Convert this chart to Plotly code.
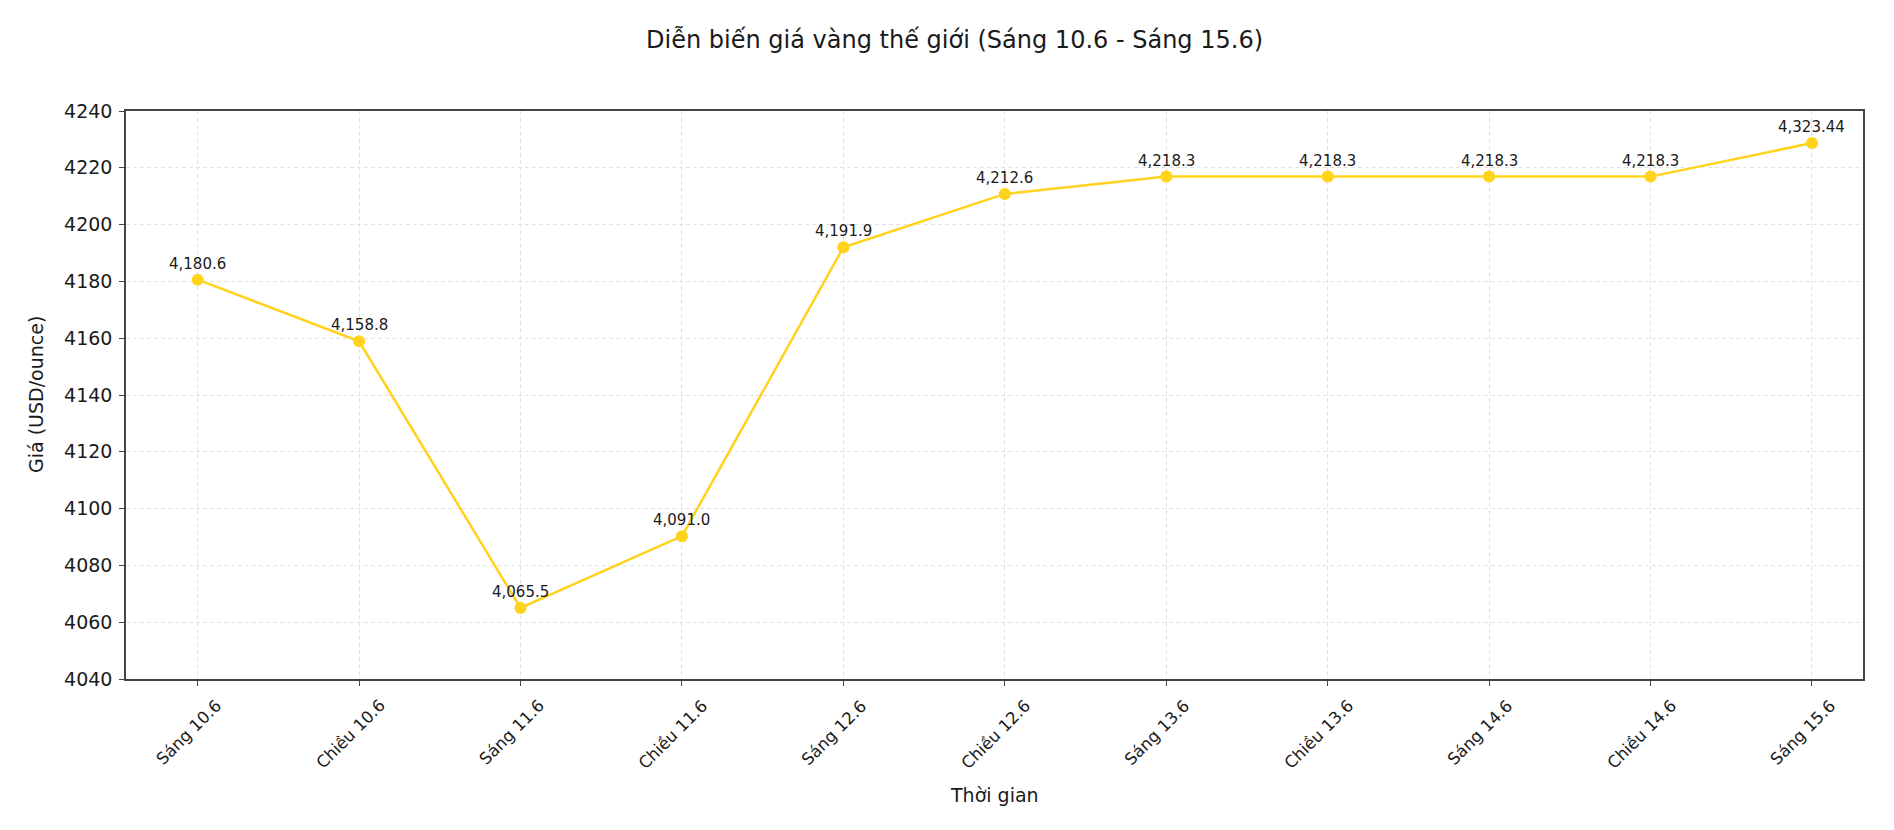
import plotly.graph_objects as go

categories = ["Sáng 10.6", "Chiều 10.6", "Sáng 11.6", "Chiều 11.6", "Sáng 12.6",
              "Chiều 12.6", "Sáng 13.6", "Chiều 13.6", "Sáng 14.6", "Chiều 14.6", "Sáng 15.6"]
prices = [4180.6, 4158.9, 4065.0, 4090.3, 4192.0, 4210.8, 4216.9, 4216.9, 4216.9, 4216.9, 4228.7]
price_labels = ["4,180.6", "4,158.8", "4,065.5", "4,091.0", "4,191.9", "4,212.6",
                "4,218.3", "4,218.3", "4,218.3", "4,218.3", "4,323.44"]
y_ticks = [4040, 4060, 4080, 4100, 4120, 4140, 4160, 4180, 4200, 4220, 4240]

FONT = "DejaVu Sans"
TXT = "#1a1a1a"
x_idx = list(range(len(categories)))

fig = go.Figure()
fig.add_trace(go.Scatter(
    x=x_idx, y=prices, mode="lines+markers",
    line=dict(color="#FFD21C", width=2.5),
    marker=dict(color="#FFD21C", size=12),
    showlegend=False,
))

# value labels above points
for xi, yv, lab in zip(x_idx, prices, price_labels):
    fig.add_annotation(x=xi, y=yv, text=lab, showarrow=False,
                       xanchor="center", yanchor="middle", yshift=16,
                       font=dict(family=FONT, size=15, color=TXT))

# rotated category labels
for xi, cat in zip(x_idx, categories):
    fig.add_annotation(x=xi, y=0, xref="x", yref="paper", text=cat, showarrow=False,
                       textangle=-45, xanchor="center", yanchor="top",
                       xshift=-9, yshift=-14,
                       font=dict(family=FONT, size=16.5, color=TXT))

# axis titles
fig.add_annotation(x=0.5, y=-0.204, xref="paper", yref="paper", text="Thời gian",
                   showarrow=False, xanchor="center", yanchor="middle",
                   font=dict(family=FONT, size=19, color=TXT))
fig.add_annotation(x=-0.0518, y=0.5, xref="paper", yref="paper", text="Giá (USD/ounce)",
                   showarrow=False, xanchor="center", yanchor="middle", textangle=-90,
                   font=dict(family=FONT, size=19, color=TXT))

fig.update_layout(
    width=1894, height=830,
    margin=dict(l=126, r=31, t=111, b=151),
    paper_bgcolor="white", plot_bgcolor="white",
    title=dict(text="Diễn biến giá vàng thế giới (Sáng 10.6 - Sáng 15.6)",
               x=0.504, xanchor="center", y=0.952, yanchor="middle",
               font=dict(family=FONT, size=24, color=TXT)),
    font=dict(family=FONT, color=TXT),
)
fig.update_xaxes(
    range=[-0.444, 10.316],
    tickmode="array", tickvals=x_idx, showticklabels=False,
    ticks="outside", ticklen=5, tickcolor="#444",
    showline=True, linecolor="#444", linewidth=1.5, mirror=True,
    showgrid=True, gridcolor="#e2e2e2", griddash="4px,3px", gridwidth=1,
    zeroline=False,
)
fig.update_yaxes(
    range=[4040, 4240],
    tickmode="array", tickvals=y_ticks,
    tickfont=dict(family=FONT, size=19, color=TXT),
    ticks="outside", ticklen=5, tickcolor="#444", ticklabelstandoff=3,
    showline=True, linecolor="#444", linewidth=1.5, mirror=True,
    showgrid=True, gridcolor="#e2e2e2", griddash="4px,3px", gridwidth=1,
    zeroline=False,
)

fig.write_html("out.html")
